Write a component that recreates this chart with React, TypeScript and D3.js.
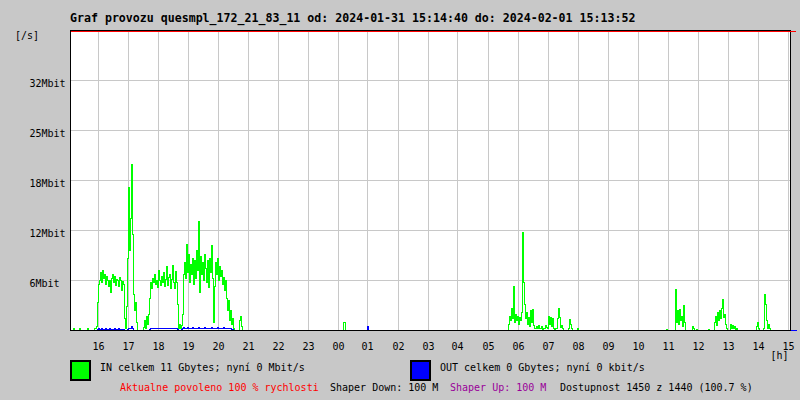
import React from "react";
import * as d3 from "d3";

// ---- data (Mbit/s, one sample per 2 minutes) ----
const titleText = "Graf provozu quesmpl_172_21_83_11 od: 2024-01-31 15:14:40 do: 2024-02-01 15:13:52";
const axisStart = "2024-01-31T15:04:00";
const axisEnd = "2024-02-01T15:04:00";

const yTickValues = [6.25, 12.5, 18.75, 25, 31.25];
const yTickLabels = ["6Mbit", "12Mbit", "18Mbit", "25Mbit", "32Mbit"];

const inEveningStart = "2024-01-31T15:08:00";
const inEvening = [
  0, 0.3, 0, 0, 0, 0, 0, 0.3,
  0, 0, 0, 0, 0, 0, 0, 0.3,
  0, 0, 0, 0, 0, 0, 0.2, 0.3,
  0.5, 3.5, 5.8, 6.3, 7.2, 6.0, 7.5, 6.5, 7.0, 5.8, 6.8, 6.2, 5.5, 6.3, 4.8,
  6.5, 7.0, 6.0, 6.8, 5.6, 6.4, 6.2, 5.5, 6.6, 6.3, 5.0, 6.1, 5.8, 1.5, 0.3,
  3.0, 9.0, 17.9, 10.0, 14.0, 20.8, 12.0, 4.5, 2.5, 3.5, 1.0, 0, 0, 0, 0,
  0, 0, 0.4, 1.3, 0.3, 1.8, 0.8, 2.0, 4.0, 6.0, 5.2, 6.5, 6.0, 7.0, 5.8,
  6.3, 5.4, 7.5, 6.2, 5.6, 6.8, 6.0, 7.2, 5.5, 6.4, 8.0, 5.6, 6.6, 7.0, 5.3,
  6.4, 8.1, 6.0, 5.2, 7.4, 6.0, 3.2, 0.2, 0.8, 0.3, 0.6, 2.0, 7.0, 8.5, 6.5,
  10.8, 7.2, 9.5, 6.0, 8.2, 7.0, 9.0, 5.8, 8.8, 6.5, 10.0, 7.5, 13.6, 4.8, 9.2,
  7.0, 8.5, 6.2, 9.5, 7.8, 6.0, 8.8, 5.4, 9.0, 7.3, 10.6, 6.5, 1.0, 5.5, 8.5,
  7.0, 9.0, 6.2, 8.0, 6.8, 7.5, 5.8, 6.6, 5.0, 6.2, 4.0, 2.5, 3.8, 1.2, 2.5,
  0.8, 1.5, 0.3, 0, 0, 0, 0, 0, 1.2, 1.7, 0.5, 0,
];

const inNightStart = "2024-02-01T00:08:00";
const inNight = [0, 1.0, 1.0, 0];

const inMorningStart = "2024-02-01T05:34:00";
const inMorning = [
  0, 0, 0, 0.8, 1.8, 1.2, 2.7, 1.5, 5.5, 1.0, 2.0, 1.3, 1.8, 0.8, 1.6,
  1.2, 2.2, 12.3, 6.0, 3.3, 1.5, 2.2, 0.8, 1.6, 0.5, 2.5, 1.0, 2.6, 0.6, 0.3,
  0.2, 0.5, 0.2, 0.6, 0.3, 0.2, 0.5, 0.1, 0.3, 0.2, 0.6, 0.4, 0.2, 1.7, 0.8,
  1.6, 0.5, 1.5, 0.3, 0, 0.2, 0.3, 1.5, 2.8, 1.6, 0.4, 0.6, 0.2, 0, 0,
  0, 0, 0, 0.3, 1.4, 0.8, 0.2, 0, 0, 0, 0, 0, 0.2, 0,
];

const inMiddayStart = "2024-02-01T10:52:00";
const inMidday = [
  0, 0, 0.1, 0, 0, 0, 0, 0, 0, 0, 0, 5.1, 1.0, 2.5, 0.8,
  2.6, 1.2, 1.8, 0.5, 3.1, 1.0, 0, 0, 0, 0, 0, 0, 0, 0.5, 0.2,
  0, 0, 0.1, 0, 0, 0, 0, 0, 0, 0, 0, 0, 0, 0, 0.1,
  0, 0, 0, 0, 0, 1.0, 1.8, 0.6, 2.2, 1.3, 2.5, 1.5, 2.8, 3.9, 1.6,
  2.0, 0.8, 0.3, 0, 0, 0, 0.8, 0.3, 0.6, 0.2, 0.5, 0, 0.3, 0, 0,
  0, 0, 0, 0, 0, 0, 0, 0, 0, 0, 0, 0, 0, 0, 0,
  0, 0, 0.5, 1.0, 0.3, 0, 0, 0, 0, 0.3, 4.5, 3.3, 1.2, 0.2, 0.8, 0.3, 0,
];

const outEveningStart = "2024-01-31T15:56:00";
const outEvening = [
  0,
  0.15, 0.2, 0.15, 0.15, 0.2, 0.15, 0.15, 0.15, 0.2, 0.15, 0.15, 0.15, 0.2, 0.15,
  0.15, 0.15, 0.15, 0.2, 0.15, 0.15, 0.15, 0.2, 0.15, 0.15, 0.15, 0.15, 0.1,
  0.05, 0, 0.05, 0.1,
  0.2, 0.25, 0.3, 0.5, 0.2,
  0.05, 0, 0, 0, 0, 0, 0, 0, 0, 0, 0, 0, 0, 0, 0, 0.05, 0.1,
  0.2, 0.25, 0.2, 0.2, 0.3, 0.2, 0.25, 0.2, 0.2, 0.3, 0.2, 0.2, 0.25, 0.2,
  0.2, 0.3, 0.2, 0.2, 0.25, 0.2, 0.2, 0.3, 0.25, 0.2, 0.2, 0.2, 0.25, 0.1,
  0, 0, 0.05, 0.1,
  0.3, 0.35, 0.3, 0.25, 0.3, 0.35, 0.3, 0.3, 0.25, 0.3, 0.35, 0.3, 0.3, 0.3,
  0.25, 0.3, 0.35, 0.3, 0.3, 0.25, 0.3, 0.3, 0.35, 0.3, 0.3, 0.25, 0.3, 0.3,
  0.3, 0.35, 0.3, 0.25, 0.3, 0.3, 0.3, 0.35, 0.3, 0.3, 0.25, 0.3, 0.3, 0.35,
  0.3, 0.3, 0.25, 0.3, 0.3, 0.2, 0.2, 0.15, 0.1,
  0,
];

const outNightStart = "2024-02-01T00:56:00";
const outNight = [0, 0.5, 0];

const legendIn = "IN celkem 11 Gbytes; nyní 0 Mbit/s";
const legendOut = "OUT celkem 0 Gbytes; nyní 0 kbit/s";
const footerParts = [
  { text: "Aktualne povoleno 100 % rychlosti", color: "#ff0000", x: 120 },
  { text: "Shaper Down: 100 M", color: "#000000", x: 330 },
  { text: "Shaper Up: 100 M", color: "#990099", x: 450 },
  { text: "Dostupnost 1450 z 1440 (100.7 %)", color: "#000000", x: 560 },
];

// ---- helpers ----
type Pt = { t: Date; v: number };
const STEP = 2 * 60 * 1000;

function buildSeries(segs: { start: string; values: number[] }[]): Pt[] {
  const t0 = new Date(axisStart).getTime();
  const t1 = new Date(axisEnd).getTime();
  const map = new Map<number, number>();
  segs.forEach((s) => {
    const st = new Date(s.start).getTime();
    s.values.forEach((v, i) => map.set(st + i * STEP, v));
  });
  const out: Pt[] = [];
  for (let t = t0 + STEP; t <= t1; t += STEP) {
    out.push({ t: new Date(t), v: map.get(t) ?? 0 });
  }
  return out;
}

const inSeries = buildSeries([
  { start: inEveningStart, values: inEvening },
  { start: inNightStart, values: inNight },
  { start: inMorningStart, values: inMorning },
  { start: inMiddayStart, values: inMidday },
]);
const outSeries = buildSeries([
  { start: outEveningStart, values: outEvening },
  { start: outNightStart, values: outNight },
]);

const FONT = "'DejaVu Sans Mono', monospace";

export default function App() {
  const left = 70.5, right = 790.5, top = 31.5, bottom = 330.5;
  const x = d3.scaleTime().domain([new Date(axisStart), new Date(axisEnd)]).range([left, right]);
  const y = d3.scaleLinear().domain([0, 37.375]).range([bottom, top]);
  const hours = x.ticks(d3.timeHour.every(1)!);
  const fmt = d3.timeFormat("%H");
  const line = d3.line<Pt>().x((d) => x(d.t)).y((d) => y(d.v)).curve(d3.curveStepAfter);

  return (
    <div style={{ position: "fixed", left: 0, top: 0, width: 800, height: 400 }}>
      <svg width={800} height={400} style={{ display: "block" }} fontFamily={FONT}>
        <rect x={0} y={0} width={800} height={400} fill="#c8c8c8" />
        <rect x={left} y={30} width={right - left} height={bottom - 30} fill="#ffffff" />
        {/* grid */}
        <g stroke="#c8c8c8" strokeWidth={1} shapeRendering="crispEdges">
          {hours.map((h, i) => (
            <line key={"v" + i} x1={Math.round(x(h)) - 0.5} x2={Math.round(x(h)) - 0.5} y1={31} y2={bottom} />
          ))}
          {yTickValues.map((v, i) => (
            <line key={"h" + i} x1={left} x2={right} y1={y(v)} y2={y(v)} />
          ))}
        </g>
        {/* series */}
        <path d={line(inSeries) || ""} fill="none" stroke="#00ff00" strokeWidth={1} shapeRendering="crispEdges" />
        <path d={line(outSeries) || ""} fill="none" stroke="#0000ff" strokeWidth={1} shapeRendering="crispEdges" />
        {/* axes / frame */}
        <g stroke="#000" strokeWidth={1} shapeRendering="crispEdges">
          <line x1={left} x2={left} y1={30} y2={bottom} />
          <line x1={left} x2={right} y1={bottom} y2={bottom} />
          <line x1={right} x2={right} y1={30} y2={bottom} />
          <line x1={left} x2={right} y1={30.5} y2={30.5} />
        </g>
        <line x1={left} x2={796} y1={31.5} y2={31.5} stroke="#ff0000" strokeWidth={1} shapeRendering="crispEdges" />
        <line x1={791} x2={797} y1={bottom} y2={bottom} stroke="#0000ff" strokeWidth={1} shapeRendering="crispEdges" />
        {/* title */}
        <text x={70} y={22} fontSize={11.6} fontWeight="bold" fill="#000">{titleText}</text>
        {/* y labels */}
        <text x={15} y={39} fontSize={10} fill="#000">[/s]</text>
        {yTickValues.map((v, i) => (
          <text key={"yl" + i} x={29.5} y={y(v) + 6} fontSize={10} fill="#000">{yTickLabels[i]}</text>
        ))}
        {/* x labels */}
        {hours.map((h, i) => (
          <text key={"xl" + i} x={Math.round(x(h)) - 0.5} y={350} fontSize={10} textAnchor="middle" fill="#000">{fmt(h)}</text>
        ))}
        <text x={770.5} y={359} fontSize={10} fill="#000">[h]</text>
        {/* legend */}
        <rect x={71} y={361} width={19} height={19} fill="#00ff00" stroke="#000" strokeWidth={2} />
        <text x={100} y={371} fontSize={10} fill="#000">{legendIn}</text>
        <rect x={411} y={361} width={19} height={19} fill="#0000ff" stroke="#000" strokeWidth={2} />
        <text x={440} y={371} fontSize={10} fill="#000">{legendOut}</text>
        {footerParts.map((p, i) => (
          <text key={"f" + i} x={p.x} y={390.5} fontSize={10} fill={p.color}>{p.text}</text>
        ))}
      </svg>
    </div>
  );
}
